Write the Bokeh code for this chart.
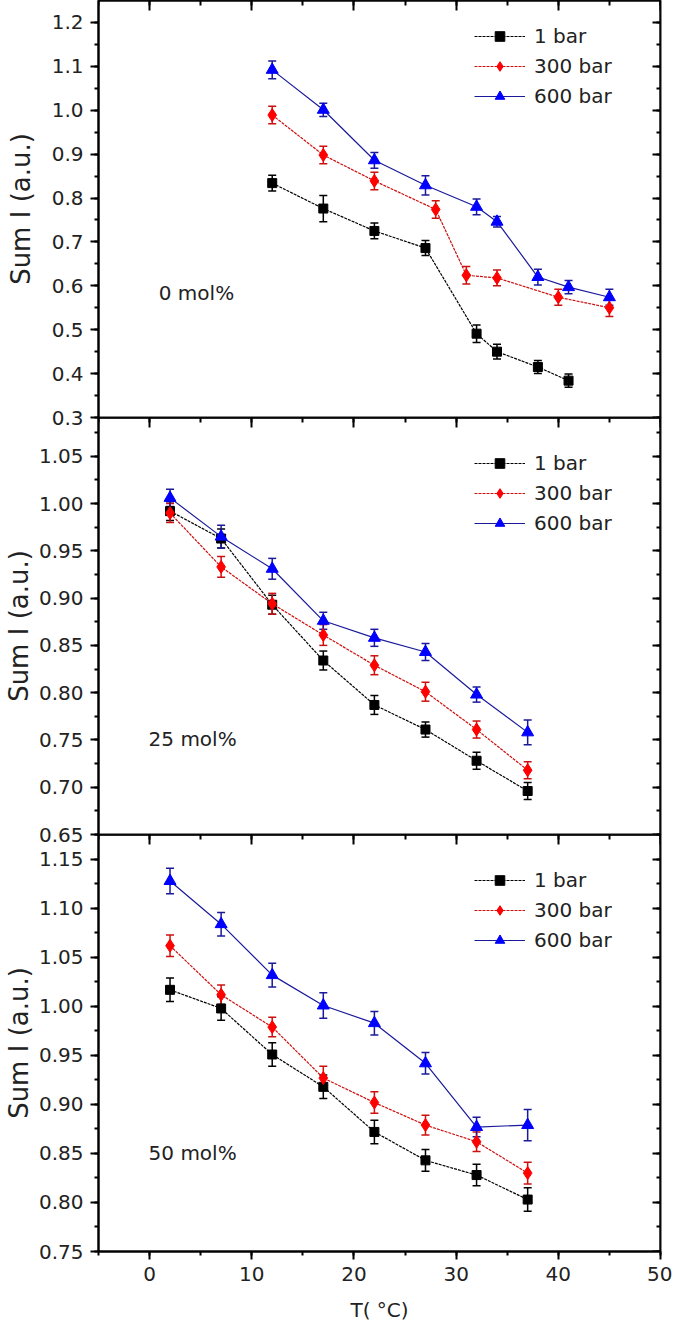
from bokeh.plotting import figure
from bokeh.layouts import column
from bokeh.models import (ColumnDataSource, Whisker, TeeHead, LinearAxis, Range1d,
                          Legend, LegendItem, Label, SingleIntervalTicker,
                          NumeralTickFormatter, CustomJSTickFormatter)
from bokeh.embed import file_html
from bokeh.resources import INLINE

# ---------------- data ----------------
# Panel A: 0 mol%
a_T_1 = [12, 17, 22, 27, 32, 34, 38, 41]
a_I_1 = [0.834, 0.776, 0.725, 0.686, 0.491, 0.450, 0.415, 0.384]
a_E_1 = [0.018, 0.030, 0.018, 0.017, 0.020, 0.017, 0.015, 0.015]
a_T_300 = [12, 17, 22, 28, 31, 34, 40, 45]
a_I_300 = [0.989, 0.898, 0.839, 0.774, 0.624, 0.618, 0.574, 0.550]
a_E_300 = [0.020, 0.020, 0.020, 0.020, 0.020, 0.018, 0.018, 0.020]
a_T_600 = [12, 17, 22, 27, 32, 34, 38, 41, 45]
a_I_600 = [1.092, 1.001, 0.886, 0.829, 0.780, 0.746, 0.620, 0.597, 0.574]
a_E_600 = [0.020, 0.015, 0.018, 0.022, 0.018, 0.012, 0.018, 0.015, 0.018]

# Panel B: 25 mol%
b_T = [2, 7, 12, 17, 22, 27, 32, 37]
b_I_1 = [0.992, 0.963, 0.893, 0.834, 0.787, 0.761, 0.728, 0.696]
b_E_1 = [0.010, 0.010, 0.010, 0.010, 0.010, 0.008, 0.009, 0.009]
b_I_300 = [0.990, 0.933, 0.894, 0.861, 0.829, 0.801, 0.761, 0.718]
b_E_300 = [0.010, 0.011, 0.011, 0.011, 0.010, 0.010, 0.009, 0.009]
b_I_600 = [1.006, 0.965, 0.931, 0.876, 0.858, 0.843, 0.798, 0.758]
b_E_600 = [0.009, 0.012, 0.011, 0.009, 0.009, 0.009, 0.008, 0.013]

# Panel C: 50 mol%
c_T = [2, 7, 12, 17, 22, 27, 32, 37]
c_I_1 = [1.017, 0.998, 0.951, 0.918, 0.872, 0.843, 0.828, 0.803]
c_E_1 = [0.012, 0.012, 0.012, 0.012, 0.012, 0.011, 0.011, 0.012]
c_I_300 = [1.062, 1.012, 0.979, 0.927, 0.902, 0.879, 0.862, 0.830]
c_E_300 = [0.011, 0.010, 0.010, 0.012, 0.011, 0.010, 0.010, 0.011]
c_I_600 = [1.128, 1.084, 1.032, 1.001, 0.983, 0.942, 0.877, 0.879]
c_E_600 = [0.013, 0.012, 0.012, 0.013, 0.012, 0.011, 0.010, 0.016]

series_labels = ["1 bar", "300 bar", "600 bar"]
panel_labels = ["0 mol%", "25 mol%", "50 mol%"]
x_label = "T( °C)"
y_label = "Sum I (a.u.)"

# ---------------- styling ----------------
FONT = "DejaVu Sans"
TXT = "#222222"
STYLES = [
    dict(marker="square", size=9, fill="#000000", line="#000000", dash="3 1"),
    dict(marker="diamond", size=13, fill="#ff0000", line="#cc1010", dash="3 1"),
    dict(marker="triangle", size=12, fill="#0000ff", line="#1a1a9a", dash="solid"),
]

X_RANGE = (-5, 50)
W = 672
LEFT = 92
RIGHT = 12
OVER = 12   # overlap between stacked panels so boundary tick labels are not clipped


def blank_axis(ticker, major_in, loc):
    return LinearAxis(ticker=ticker, fixed_location=loc,
                      formatter=CustomJSTickFormatter(code="return ''"),
                      major_label_text_font_size="1px",
                      major_label_standoff=0, major_tick_out=0,
                      major_tick_in=major_in, minor_tick_out=0,
                      minor_tick_in=major_in // 2, axis_line_width=2,
                      major_tick_line_width=2, minor_tick_line_width=2)


def make_panel(height, y_range, y_interval, y_fmt, series, text, text_pos,
               legend_y, bottom_axis, ylab_standoff, bottom_border, first):
    p = figure(width=W, height=height, output_backend="svg", toolbar_location=None,
               x_range=Range1d(*X_RANGE), y_range=Range1d(*y_range),
               x_axis_location=None, y_axis_location=None,
               min_border_left=LEFT, min_border_right=RIGHT,
               min_border_top=0, min_border_bottom=bottom_border)
    p.grid.visible = False
    p.outline_line_color = "#111111"
    p.outline_line_width = 2
    p.background_fill_alpha = 0
    p.border_fill_alpha = 0
    if first:
        p.border_fill_color = "white"
        p.border_fill_alpha = 1

    xt = SingleIntervalTicker(interval=10, num_minor_ticks=2)
    yt = SingleIntervalTicker(interval=y_interval, num_minor_ticks=2)

    left = LinearAxis(ticker=yt, formatter=NumeralTickFormatter(format=y_fmt),
                      axis_label=y_label, axis_label_text_font=FONT,
                      axis_label_text_font_size="26px",
                      axis_label_text_font_style="normal",
                      axis_label_text_color=TXT,
                      axis_label_standoff=ylab_standoff,
                      major_label_text_font=FONT, major_label_text_font_size="20px",
                      major_label_text_color=TXT, major_label_standoff=7,
                      major_tick_out=8, major_tick_in=0, minor_tick_out=4,
                      minor_tick_in=0, axis_line_width=2, major_tick_line_width=2,
                      minor_tick_line_width=2)
    p.add_layout(left, "left")
    p.add_layout(blank_axis(yt, 8, X_RANGE[1]), "right")
    p.add_layout(blank_axis(xt, 10, y_range[1]), "above")

    if bottom_axis:
        bot = LinearAxis(ticker=xt, axis_label=x_label, axis_label_text_font=FONT,
                         axis_label_text_font_size="20px",
                         axis_label_text_font_style="normal",
                         axis_label_text_color=TXT, axis_label_standoff=14,
                         major_label_text_font=FONT, major_label_text_font_size="20px",
                         major_label_text_color=TXT, major_label_standoff=7,
                         major_tick_out=8, major_tick_in=0, minor_tick_out=4,
                         minor_tick_in=0, axis_line_width=2,
                         major_tick_line_width=2, minor_tick_line_width=2)
        p.add_layout(bot, "below")

    items = []
    for (xs, ys, es), st, lab in zip(series, STYLES, series_labels):
        src = ColumnDataSource(dict(x=xs, y=ys,
                                    lo=[a - b for a, b in zip(ys, es)],
                                    hi=[a + b for a, b in zip(ys, es)]))
        lr = p.line("x", "y", source=src, line_color=st["line"], line_width=1.2,
                    line_dash=st["dash"])
        wh = Whisker(source=src, base="x", lower="lo", upper="hi",
                     dimension="height", line_color=st["line"], line_width=1.5,
                     lower_head=TeeHead(size=8, line_color=st["line"], line_width=1.5),
                     upper_head=TeeHead(size=8, line_color=st["line"], line_width=1.5))
        p.add_layout(wh)
        sr = p.scatter("x", "y", source=src, marker=st["marker"], size=st["size"],
                       fill_color=st["fill"], line_color=st["fill"])
        items.append(LegendItem(label=lab, renderers=[lr, sr]))

    leg = Legend(items=items, location=(376, legend_y), orientation="vertical",
                 border_line_color=None, background_fill_alpha=0, padding=0,
                 margin=0, spacing=6, glyph_width=51, glyph_height=24,
                 label_height=24, label_standoff=9, label_text_font=FONT,
                 label_text_font_size="20px", label_text_color=TXT)
    p.add_layout(leg)

    p.add_layout(Label(x=text_pos[0], y=text_pos[1], text=text,
                       text_font=FONT, text_font_size="20px",
                       text_color=TXT, text_align="left", text_baseline="middle"))
    return p


pA = make_panel(417 + OVER, (0.3, 1.25), 0.1, "0.0",
                [(a_T_1, a_I_1, a_E_1), (a_T_300, a_I_300, a_E_300),
                 (a_T_600, a_I_600, a_E_600)],
                panel_labels[0], (0.9, 0.583), 309, False, 13, OVER, True)
pB = make_panel(417 + OVER, (0.65, 1.091), 0.05, "0.00",
                [(b_T, b_I_1, b_E_1), (b_T, b_I_300, b_E_300),
                 (b_T, b_I_600, b_E_600)],
                panel_labels[1], (-0.1, 0.751), 299, False, 2, OVER, False)
pC = make_panel(490, (0.75, 1.1755), 0.05, "0.00",
                [(c_T, c_I_1, c_E_1), (c_T, c_I_300, c_E_300),
                 (c_T, c_I_600, c_E_600)],
                panel_labels[2], (-0.1, 0.850), 299, True, 2, 73, False)
pA.margin = (0, 0, -OVER, 0)
pB.margin = (0, 0, -OVER, 0)
pC.margin = (0, 0, 0, 0)

layout = column(pA, pB, pC, spacing=0)
open("out.html", "w").write(file_html(layout, INLINE))
